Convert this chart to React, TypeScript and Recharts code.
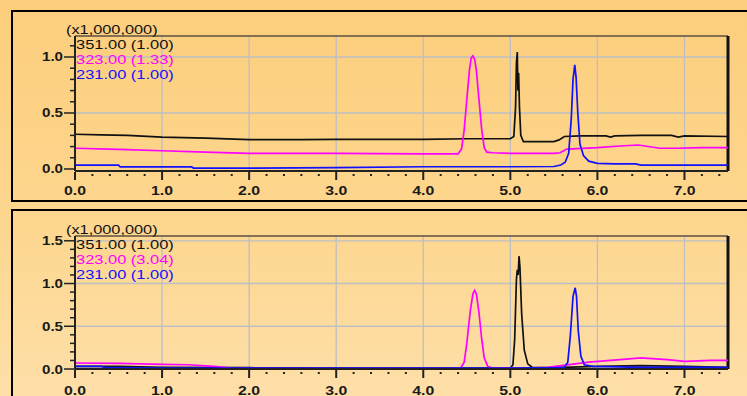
import React from "react";
import { Legend, Line, LineChart, ReferenceLine, XAxis, YAxis } from "recharts";

// top panel traces (retention time in min, intensity x1,000,000)
const topBlackT = [0, 0.3, 0.6, 1.0, 1.5, 2.0, 2.6, 3.0, 3.5, 4.0, 4.5, 4.9, 5.0, 5.04, 5.06, 5.07, 5.08, 5.087, 5.095, 5.105, 5.12, 5.15, 5.3, 5.5, 5.56, 5.62, 5.8, 6.1, 6.15, 6.2, 6.5, 6.85, 6.93, 7.0, 7.5];
const topBlackV = [0.31, 0.305, 0.3, 0.285, 0.275, 0.262, 0.262, 0.265, 0.265, 0.265, 0.27, 0.27, 0.27, 0.29, 0.55, 0.95, 1.045, 0.7, 0.86, 0.55, 0.3, 0.245, 0.245, 0.245, 0.26, 0.29, 0.295, 0.295, 0.285, 0.295, 0.3, 0.3, 0.285, 0.295, 0.29];
const topMagT = [0, 0.5, 1.0, 1.5, 2.0, 3.0, 4.0, 4.4, 4.44, 4.47, 4.5, 4.53, 4.55, 4.57, 4.59, 4.61, 4.64, 4.67, 4.7, 4.73, 4.8, 5.0, 5.5, 5.57, 5.65, 6.0, 6.26, 6.47, 6.72, 6.9, 7.2, 7.5];
const topMagV = [0.185, 0.175, 0.163, 0.15, 0.14, 0.14, 0.135, 0.135, 0.18, 0.35, 0.62, 0.88, 0.99, 1.01, 0.98, 0.88, 0.62, 0.36, 0.19, 0.15, 0.145, 0.14, 0.14, 0.145, 0.178, 0.19, 0.205, 0.214, 0.185, 0.185, 0.19, 0.19];
const topBlueT = [0, 0.5, 0.52, 1.34, 1.36, 2.0, 3.0, 4.0, 5.0, 5.5, 5.58, 5.63, 5.67, 5.7, 5.72, 5.74, 5.755, 5.775, 5.8, 5.84, 5.9, 6.0, 6.2, 6.44, 6.5, 7.0, 7.5];
const topBlueV = [0.035, 0.035, 0.018, 0.018, 0.008, 0.008, 0.012, 0.02, 0.02, 0.022, 0.035, 0.06, 0.14, 0.45, 0.8, 0.93, 0.82, 0.5, 0.22, 0.12, 0.07, 0.05, 0.045, 0.045, 0.035, 0.035, 0.035];

// bottom panel traces
const botBlackT = [0, 0.5, 1.0, 2.0, 3.0, 4.0, 4.5, 5.0, 5.03, 5.05, 5.07, 5.08, 5.09, 5.1, 5.11, 5.13, 5.16, 5.2, 5.25, 5.5, 6.0, 6.5, 7.0, 7.5];
const botBlackV = [0.03, 0.03, 0.02, 0.015, 0.01, 0.01, 0.01, 0.01, 0.05, 0.35, 1.05, 1.16, 1.1, 1.32, 1.2, 0.65, 0.22, 0.06, 0.02, 0.015, 0.03, 0.04, 0.03, 0.02];
const botMagT = [0, 0.5, 1.0, 1.3, 1.6, 1.8, 2.5, 3.5, 4.3, 4.43, 4.47, 4.5, 4.54, 4.57, 4.59, 4.61, 4.64, 4.67, 4.7, 4.74, 4.8, 5.2, 5.43, 5.9, 6.26, 6.5, 6.8, 7.0, 7.3, 7.5];
const botMagV = [0.07, 0.065, 0.055, 0.05, 0.03, 0.01, 0.005, 0.005, 0.005, 0.01, 0.08, 0.3, 0.68, 0.88, 0.92, 0.88, 0.66, 0.36, 0.13, 0.03, 0.01, 0.01, 0.02, 0.08, 0.11, 0.13, 0.11, 0.09, 0.1, 0.1];
const botBlueT = [0, 0.3, 0.35, 1.0, 2.0, 3.0, 4.0, 5.0, 5.5, 5.62, 5.66, 5.69, 5.72, 5.745, 5.76, 5.78, 5.81, 5.85, 5.95, 6.5, 7.0, 7.5];
const botBlueV = [0.03, 0.03, 0.015, 0.01, 0.01, 0.01, 0.01, 0.01, 0.015, 0.02, 0.08, 0.4, 0.85, 0.95, 0.85, 0.45, 0.15, 0.05, 0.03, 0.02, 0.02, 0.02];

const topNames = ["351.00 (1.00)", "323.00 (1.33)", "231.00 (1.00)"];
const botNames = ["351.00 (1.00)", "323.00 (3.04)", "231.00 (1.00)"];
const colors = ["#111111", "#ff00ff", "#1010ff"];

const xTicks = [0, 0.2, 0.4, 0.6, 0.8, 1, 1.2, 1.4, 1.6, 1.8, 2, 2.2, 2.4, 2.6, 2.8, 3, 3.2, 3.4, 3.6, 3.8, 4, 4.2, 4.4, 4.6, 4.8, 5, 5.2, 5.4, 5.6, 5.8, 6, 6.2, 6.4, 6.6, 6.8, 7, 7.2, 7.4];
const xGrid = [1, 2, 3, 4, 5, 6, 7];
const topYTicks = [0, 0.1, 0.2, 0.3, 0.4, 0.5, 0.6, 0.7, 0.8, 0.9, 1.0, 1.1];
const botYTicks = [0, 0.1, 0.2, 0.3, 0.4, 0.5, 0.6, 0.7, 0.8, 0.9, 1.0, 1.1, 1.2, 1.3, 1.4, 1.5];
const topYGrid = [0.5, 1.0];
const botYGrid = [0.5, 1.0, 1.5];

const FONT = "'Liberation Sans', Arial, sans-serif";

const toRows = (t: number[], v: number[]) => t.map((x, i) => ({ t: x, v: v[i] }));

const isMultiple = (v: number, step: number) => Math.abs(v / step - Math.round(v / step)) < 1e-6;

function XTick(props: any) {
  const { x, payload, base, labelY } = props;
  const major = isMultiple(payload.value, 1);
  return (
    <g>
      <line x1={x} x2={x} y1={base + (major ? 1 : 3)} y2={base + (major ? 9 : 5)} stroke="#222" strokeWidth={2} />
      {major && (
        <text x={x} y={labelY} textAnchor="middle" fontFamily={FONT} fontSize={12} fontWeight={700} fill="#1a1a1a" textLength={22} lengthAdjust="spacingAndGlyphs">
          {payload.value.toFixed(1)}
        </text>
      )}
    </g>
  );
}

function YTick(props: any) {
  const { y, payload } = props;
  const major = isMultiple(payload.value, 0.5);
  return (
    <g>
      <line x1={major ? 64 : 70} x2={75} y1={y} y2={y} stroke="#222" strokeWidth={1.5} />
      {major && (
        <text x={63} y={y + 4.5} textAnchor="end" fontFamily={FONT} fontSize={12} fontWeight={700} fill="#1a1a1a" textLength={21} lengthAdjust="spacingAndGlyphs">
          {payload.value.toFixed(1)}
        </text>
      )}
    </g>
  );
}

function LegendBlock(props: any) {
  const { payload, order } = props;
  const items = [...(payload || [])].sort((a: any, b: any) => order.indexOf(a.value) - order.indexOf(b.value));
  return (
    <div style={{ fontFamily: FONT, fontSize: 12, lineHeight: "15px", whiteSpace: "nowrap" }}>
      <div style={{ color: "#111", transform: "scaleX(1.36)", transformOrigin: "0 0" }}>(x1,000,000)</div>
      {items.map((p: any) => (
        <div key={p.value} style={{ color: p.color, marginLeft: 10, transform: "scaleX(1.37)", transformOrigin: "0 0" }}>
          {p.value}
        </div>
      ))}
    </div>
  );
}

function Chromatogram(props: {
  height: number;
  base: number;
  labelY: number;
  yMin: number;
  yMax: number;
  yTicks: number[];
  yGrid: number[];
  names: string[];
  series: { t: number; v: number }[][];
}) {
  const { height, base, labelY, yMin, yMax, yTicks, yGrid, names, series } = props;
  return (
    <LineChart width={747} height={height} margin={{ top: 36, right: 19, left: 0, bottom: 0 }}>
      <XAxis
        type="number"
        dataKey="t"
        domain={[0, 7.5]}
        allowDataOverflow
        ticks={xTicks}
        interval={0}
        height={height - base}
        tickLine={false}
        axisLine={{ stroke: "#222", strokeWidth: 2 }}
        tick={(p: any) => <XTick {...p} base={base} labelY={labelY} />}
      />
      <YAxis
        type="number"
        domain={[yMin, yMax]}
        allowDataOverflow
        ticks={yTicks}
        interval={0}
        width={75}
        tickLine={false}
        axisLine={{ stroke: "#222", strokeWidth: 2 }}
        tick={(p: any) => <YTick {...p} />}
      />
      {xGrid.map((g) => (
        <ReferenceLine key={"x" + g} x={g} stroke="#bcbfc3" strokeWidth={1.3} />
      ))}
      {yGrid.map((g) => (
        <ReferenceLine key={"y" + g} y={g} stroke="#bcbfc3" strokeWidth={1.3} />
      ))}
      <ReferenceLine y={yMax} stroke="#5d5140" strokeWidth={1.5} />
      <ReferenceLine x={7.5} stroke="#111" strokeWidth={3} />
      {series.map((s, i) => (
        <Line
          key={names[i] + i}
          data={s}
          dataKey="v"
          name={names[i]}
          type="linear"
          stroke={colors[i]}
          strokeWidth={1.7}
          dot={false}
          isAnimationActive={false}
        />
      ))}
      <Legend
        layout="horizontal"
        verticalAlign="middle"
        align="center"
        content={<LegendBlock order={names} />}
        wrapperStyle={{ left: 66, top: 22.5, width: "auto", height: "auto" }}
      />
    </LineChart>
  );
}

export default function App() {
  const topSeries = [toRows(topBlackT, topBlackV), toRows(topMagT, topMagV), toRows(topBlueT, topBlueV)];
  const botSeries = [toRows(botBlackT, botBlackV), toRows(botMagT, botMagV), toRows(botBlueT, botBlueV)];
  return (
    <div
      style={{
        position: "absolute",
        left: 0,
        top: 0,
        width: 747,
        height: 396,
        overflow: "hidden",
        background: "linear-gradient(180deg, #fcce7c 0%, #fdd68e 55%, #fedfa8 100%)",
      }}
    >
      <div style={{ position: "absolute", left: 11, top: 10, width: 800, height: 192, boxSizing: "border-box", border: "2px solid #000" }} />
      <div style={{ position: "absolute", left: 11, top: 209, width: 800, height: 220, boxSizing: "border-box", border: "2px solid #000" }} />
      <div style={{ position: "absolute", left: 0, top: 0 }}>
        <Chromatogram
          height={200}
          base={171}
          labelY={194.5}
          yMin={-0.018}
          yMax={1.1875}
          yTicks={topYTicks}
          yGrid={topYGrid}
          names={topNames}
          series={topSeries}
        />
      </div>
      <div style={{ position: "absolute", left: 0, top: 200 }}>
        <Chromatogram
          height={196}
          base={169}
          labelY={194.5}
          yMin={0}
          yMax={1.556}
          yTicks={botYTicks}
          yGrid={botYGrid}
          names={botNames}
          series={botSeries}
        />
      </div>
    </div>
  );
}
